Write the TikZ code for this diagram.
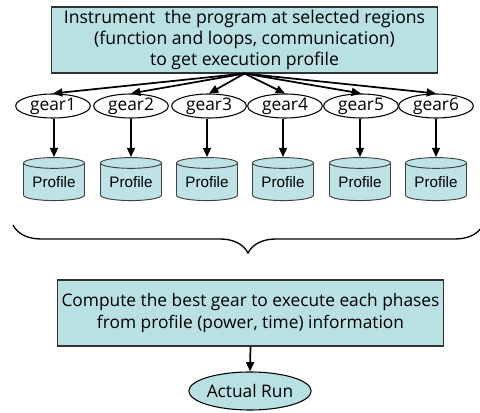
\documentclass[tikz,border=0pt]{standalone}
\usepackage{fontspec}
\setmainfont{Open Sans}
\newfontfamily\arialf{Liberation Sans}
\usetikzlibrary{shapes.geometric,decorations.pathreplacing,arrows.meta}
\definecolor{boxfill}{RGB}{185,224,226}
\definecolor{cylfill}{RGB}{190,226,229}
\begin{document}
\begin{tikzpicture}[x=0.75pt,y=-0.75pt,
  mainbox/.style={draw=black!80, line width=0.8pt, fill=boxfill, align=center,
    minimum width=290pt, minimum height=49.5pt, inner sep=0pt,
    font=\fontsize{13.2pt}{15.8pt}\selectfont},
  gearnode/.style={draw, ellipse, line width=0.8pt, fill=white, minimum width=56pt,
    minimum height=18pt, inner sep=0pt, font=\fontsize{13pt}{14pt}\selectfont},
  cyl/.style={draw=black!75, line width=0.7pt, fill=cylfill, cylinder, shape border rotate=90,
    aspect=0.25, minimum width=45.75pt, minimum height=32.25pt, inner sep=0pt,
    font=\arialf\fontsize{11.4pt}{13pt}\selectfont},
  runnode/.style={draw, ellipse, line width=0.8pt, fill=boxfill, minimum width=86pt,
    minimum height=28.5pt, inner sep=0pt, font=\fontsize{13pt}{15pt}\selectfont},
  arr/.style={line width=1.3pt, -{Triangle[length=7pt,width=6pt]}}
]
\useasboundingbox (0,0) rectangle (480,413);
\node[mainbox] (top) at (244.5,40) {Instrument\ \ the program at selected regions\\(function and loops, communication)\\to get execution profile};
\foreach \i/\gx/\cx in {1/53/54,2/131/131,3/209/207,4/285/283,5/361/360,6/436/436}{
  \node[gearnode] (g\i) at (\gx,106) {gear\i};
  \node[cyl] (c\i) at (\cx,182) {Profile};
}
\foreach \i in {1,...,6}{
  \draw[arr] (top.south) -- (g\i.north);
  \draw[arr] (c\i.north |- g\i.south) -- (c\i.north);
}
\coordinate (bl) at (13,225);
\coordinate (br) at (483,225);
\draw[line width=1pt, decorate, decoration={brace, mirror, amplitude=21pt}] (bl) -- (br);
\node[mainbox, font=\fontsize{13pt}{16.5pt}\selectfont] (bot) at (250.5,313) {Compute the best gear to execute each phases\\from profile (power, time) information};
\node[runnode] (run) at (250,391) {Actual Run};
\draw[arr] (bot.south) -- (run.north);
\end{tikzpicture}
\end{document}
